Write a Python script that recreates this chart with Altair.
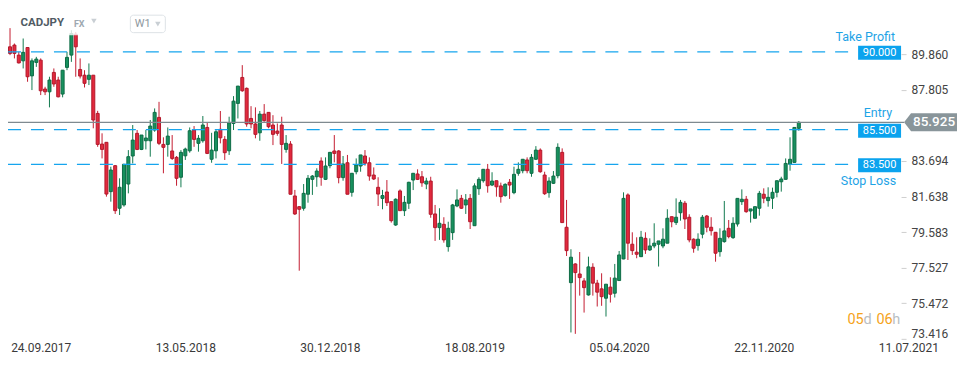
import altair as alt
import pandas as pd

# ---------------- data ----------------
symbol = "CADJPY"
market = "FX"
timeframe = "W1"
first_week = "2017-08-06"

open_ = [90.29, 90.39, 89.81, 89.48, 90.25, 88.61, 89.39, 89.52, 87.85, 87.69,
         88.81, 88.37, 87.56, 89.10, 89.81, 91.02, 88.98, 88.65, 88.41, 88.65,
         86.44, 84.67, 84.77, 81.92, 83.42, 80.96, 81.15, 82.36, 83.98, 85.29,
         84.36, 84.86, 84.86, 85.48, 86.21, 84.65, 84.65, 84.27, 83.90, 82.75,
         83.99, 84.28, 85.48, 84.71, 84.86, 85.63, 83.79, 84.28, 85.52, 84.94,
         84.28, 85.86, 87.02, 88.52, 87.89, 86.15, 85.83, 85.32, 86.40, 86.50,
         85.77, 85.42, 85.77, 84.36, 84.67, 81.67, 81.05, 80.96, 81.77, 82.63,
         82.78, 83.69, 82.63, 83.42, 84.27, 84.27, 82.73, 83.59, 81.88, 83.07,
         83.40, 83.98, 83.59, 82.88, 82.17, 81.53, 81.90, 81.34, 79.99, 81.96,
         80.82, 81.25, 82.59, 82.94, 82.78, 82.36, 82.53, 80.63, 79.84, 80.03,
         78.74, 79.55, 81.09, 81.53, 81.15, 81.53, 79.95, 82.09, 82.55, 83.21,
         82.30, 82.55, 82.25, 81.69, 82.46, 81.86, 82.98, 83.13, 83.75, 82.98,
         83.79, 84.32, 82.88, 81.86, 82.40, 82.84, 84.19, 79.86, 76.66, 77.74,
         77.16, 76.76, 75.95, 77.55, 76.63, 76.30, 75.76, 76.40, 76.05, 76.78,
         78.03, 81.73, 78.88, 78.42, 78.16, 79.22, 78.55, 78.78, 78.88, 78.78,
         78.94, 80.47, 80.13, 80.70, 81.25, 80.44, 79.17, 78.80, 79.46, 80.51,
         79.86, 79.57, 78.45, 79.03, 79.80, 79.26, 80.05, 81.34, 81.48, 80.80,
         80.38, 80.96, 81.77, 81.40, 81.54, 81.88, 82.49, 82.63, 83.50, 83.61,
         85.58]
high = [91.37, 90.48, 90.00, 90.77, 90.25, 89.62, 89.71, 89.62, 87.98, 88.56,
        89.04, 88.56, 88.94, 90.00, 91.25, 91.15, 89.62, 88.94, 89.33, 88.65,
        86.59, 85.29, 84.77, 83.36, 83.46, 82.69, 83.50, 84.32, 85.77, 85.48,
        85.19, 85.48, 86.06, 86.73, 87.11, 85.06, 85.63, 85.19, 83.98, 84.32,
        84.46, 85.63, 85.71, 85.19, 86.29, 85.90, 85.32, 85.48, 86.58, 85.13,
        86.25, 87.44, 88.02, 89.23, 87.94, 86.86, 86.79, 86.58, 86.98, 86.50,
        86.34, 85.86, 86.25, 85.19, 84.84, 82.02, 81.09, 82.36, 82.88, 82.88,
        83.27, 83.90, 83.90, 84.19, 85.19, 84.32, 83.98, 84.04, 82.98, 83.84,
        84.04, 84.32, 83.90, 83.32, 82.75, 82.02, 82.59, 81.34, 81.53, 82.05,
        81.67, 82.49, 82.98, 83.21, 83.11, 82.72, 82.78, 81.15, 80.96, 80.44,
        80.18, 81.21, 82.05, 81.73, 81.78, 81.78, 82.40, 82.75, 83.21, 83.52,
        83.04, 82.55, 82.44, 82.40, 82.65, 83.36, 83.61, 83.79, 83.90, 84.09,
        84.55, 84.42, 83.07, 82.75, 83.11, 84.71, 84.42, 81.44, 78.59, 77.78,
        78.43, 76.92, 78.16, 77.78, 76.82, 77.20, 76.57, 76.97, 77.74, 78.49,
        81.88, 81.82, 79.57, 79.28, 79.65, 79.57, 79.22, 80.09, 79.07, 79.80,
        80.90, 80.47, 81.53, 81.44, 81.38, 80.61, 79.22, 79.51, 80.57, 80.57,
        80.44, 79.57, 79.80, 81.38, 80.28, 80.44, 81.53, 82.05, 81.67, 80.92,
        81.05, 81.96, 82.11, 82.17, 82.15, 82.55, 82.78, 83.84, 85.06, 85.63,
        86.00]
low = [89.81, 89.62, 89.33, 89.04, 88.27, 87.79, 89.13, 87.50, 87.50, 86.79,
       87.98, 87.37, 87.37, 88.94, 89.42, 88.56, 88.46, 87.94, 88.08, 85.58,
       84.51, 83.84, 81.63, 81.34, 80.63, 80.57, 81.05, 81.82, 83.55, 84.32,
       84.32, 84.36, 83.94, 85.38, 84.61, 82.98, 83.94, 83.75, 82.26, 82.17,
       83.75, 84.17, 84.51, 84.23, 84.75, 84.09, 83.59, 83.84, 84.71, 83.75,
       84.04, 85.48, 86.15, 87.69, 85.67, 85.58, 85.00, 84.86, 85.96, 85.58,
       84.61, 85.15, 83.52, 84.17, 81.77, 80.57, 77.35, 80.82, 81.28, 81.73,
       82.20, 82.26, 82.59, 83.27, 83.61, 82.40, 82.55, 81.77, 81.63, 82.92,
       83.07, 83.42, 82.55, 82.59, 81.09, 80.90, 81.09, 80.13, 79.94, 80.82,
       80.51, 80.92, 82.01, 82.59, 82.20, 82.06, 80.41, 79.07, 79.13, 78.97,
       78.45, 79.13, 81.02, 80.92, 80.63, 79.76, 79.95, 81.73, 82.44, 81.86,
       82.24, 81.63, 81.28, 81.63, 81.50, 81.77, 82.84, 82.98, 82.98, 82.78,
       83.75, 83.01, 81.73, 81.57, 82.36, 82.69, 80.13, 78.20, 73.78, 73.70,
       75.91, 74.93, 75.91, 75.91, 75.28, 75.32, 74.70, 75.51, 75.80, 76.78,
       78.01, 77.97, 78.26, 78.07, 78.16, 78.32, 78.49, 78.65, 77.59, 78.65,
       78.94, 79.86, 79.99, 80.24, 79.76, 78.99, 78.39, 78.51, 79.22, 79.57,
       79.38, 77.87, 78.16, 78.97, 79.22, 79.19, 79.90, 81.15, 80.70, 80.13,
       80.38, 80.53, 81.25, 81.05, 80.92, 81.59, 81.92, 82.63, 83.13, 83.61,
       85.44]
close = [89.91, 89.91, 89.36, 89.97, 88.56, 89.48, 89.58, 87.75, 87.69, 88.37,
         88.14, 87.40, 88.94, 89.68, 91.06, 90.29, 88.60, 88.18, 88.65, 86.06,
         84.65, 84.36, 81.78, 83.17, 80.82, 82.17, 83.50, 83.94, 84.90, 84.36,
         85.19, 85.02, 85.71, 86.50, 84.71, 84.48, 85.13, 83.84, 82.69, 84.19,
         84.38, 85.44, 84.94, 85.00, 85.77, 84.13, 84.32, 85.38, 85.03, 84.17,
         85.90, 87.15, 88.02, 87.75, 85.83, 85.83, 85.23, 86.40, 86.02, 85.67,
         85.23, 85.29, 84.65, 84.71, 81.77, 80.63, 80.90, 81.82, 82.69, 82.82,
         83.11, 82.75, 83.40, 84.19, 84.13, 82.73, 83.52, 81.77, 82.98, 83.46,
         84.04, 83.56, 82.82, 82.65, 81.78, 81.69, 81.28, 80.24, 81.48, 80.82,
         81.30, 82.46, 82.98, 82.63, 82.43, 82.53, 80.61, 79.84, 80.09, 79.13,
         79.80, 81.15, 81.44, 80.96, 81.44, 80.18, 82.25, 82.63, 83.21, 82.26,
         82.53, 82.20, 81.63, 82.34, 82.30, 82.92, 83.21, 83.79, 83.13, 83.90,
         84.32, 83.07, 81.80, 82.53, 82.82, 84.48, 80.13, 78.51, 78.13, 77.24,
         76.95, 76.37, 77.57, 76.63, 76.11, 75.85, 76.57, 75.99, 76.92, 78.26,
         81.53, 78.94, 78.51, 78.30, 79.28, 78.55, 78.78, 78.94, 79.07, 79.17,
         80.38, 80.18, 80.44, 81.30, 80.34, 79.13, 78.65, 79.17, 80.44, 79.86,
         79.66, 78.36, 79.22, 79.65, 79.32, 80.09, 81.53, 81.48, 80.76, 80.92,
         81.05, 81.82, 81.54, 81.59, 81.88, 82.55, 82.65, 83.55, 83.79, 85.63,
         85.925]

level_values = [90.0, 85.5, 83.5]
level_labels = ["90.000", "85.500", "83.500"]
note_texts = ["Take Profit", "Entry", "Stop Loss"]
note_values = [90.0, 85.925, 83.5]
last_price = 85.925
last_price_label = "85.925"
y_tick_values = [89.860, 87.805, 83.694, 81.638, 79.583, 77.527, 75.472, 73.416]
x_tick_labels = ["24.09.2017", "13.05.2018", "30.12.2018", "18.08.2019",
                 "05.04.2020", "22.11.2020", "11.07.2021"]
timer_parts = ["05", "d", "06", "h"]

# ---------------- styling / layout ----------------
FONT = "Roboto"
W, H = 937, 332          # plot area wide enough for the last date label
AXIS_X = 894             # where the price axis sits inside it
GREEN, GREEN_DARK = "#17915e", "#0e6b45"
RED, RED_DARK = "#e2293d", "#b2182b"
BLUE = "#0ba3ee"
BLUE_TXT = "#1ea3e6"
GREY_TAG = "#89959a"

dates = pd.date_range(first_week, periods=len(close), freq="7D").strftime("%Y-%m-%d").tolist()
df = pd.DataFrame({"date": dates, "open": open_, "high": high, "low": low, "close": close})


def dt_from_label(s):
    d, m, y = s.split(".")
    return alt.DateTime(year=int(y), month=int(m), date=int(d), utc=True)


x_scale = alt.Scale(type="utc", domain=[
    alt.DateTime(year=2017, month=8, date=10, hours=17, minutes=41, utc=True),
    alt.DateTime(year=2021, month=8, date=28, hours=23, minutes=35, utc=True)])
y_scale = alt.Scale(domain=[73.354, 92.523], nice=False, zero=False)

x_axis = alt.Axis(values=[dt_from_label(s) for s in x_tick_labels],
                  format="%d.%m.%Y", labelFont=FONT, labelFontSize=12,
                  labelColor="#3a3a3a", ticks=False, domain=False, grid=False,
                  labelPadding=3, labelFlush=False, labelOverlap=False, title=None)

y_axis = alt.Axis(orient="right", offset=AXIS_X - W, values=y_tick_values, format=".3f",
                  grid=False, domain=False, tickSize=5, tickColor="#cfcfcf", labelPadding=5,
                  labelFont=FONT, labelFontSize=12, labelColor="#444444", title=None,
                  labelOverlap=False, labelFlush=False,
                  labelOffset={"condition": {"test": "datum.value < 74", "value": -5},
                               "value": 0})


def X(field):
    return alt.X(field, scale=x_scale, axis=x_axis, title=None)


def Y(field):
    return alt.Y(field, scale=y_scale, axis=y_axis, title=None)


up = "datum.close >= datum.open"

wicks = alt.Chart(df).mark_rule(strokeWidth=1, clip=True).encode(
    x=X("date:T"), y=Y("low:Q"), y2="high:Q",
    color=alt.condition(up, alt.value("#127a4f"), alt.value("#c41d31")),
)

bodies = alt.Chart(df).mark_bar(size=3, strokeWidth=1, clip=True).encode(
    x=X("date:T"), y=Y("open:Q"), y2="close:Q",
    color=alt.condition(up, alt.value(GREEN), alt.value(RED)),
    stroke=alt.condition(up, alt.value(GREEN_DARK), alt.value(RED_DARK)),
)

lev_df = pd.DataFrame({"value": level_values, "label": level_labels})
lev_y = Y("value:Q")

level_lines = alt.Chart(lev_df).mark_rule(strokeDash=[13, 10], strokeWidth=1.2,
                                          color="#16a5ee").encode(
    y=lev_y, x=alt.value(0), x2=alt.value(851))

entry_df = pd.DataFrame({"value": [last_price], "label": [last_price_label]})
entry_line = alt.Chart(entry_df).mark_rule(strokeWidth=1.3, color="#7f8a90").encode(
    y=lev_y, x=alt.value(0), x2=alt.value(897))

level_boxes = alt.Chart(lev_df).mark_rect(color=BLUE, yOffset=-6, y2Offset=8).encode(
    y=lev_y, y2="value:Q", x=alt.value(851), x2=alt.value(894))

level_text = alt.Chart(lev_df).mark_text(color="white", font=FONT, fontSize=11, dy=1).encode(
    y=lev_y, x=alt.value(872.5), text="label:N")

tag_path = "M-1,0L-0.736,-0.34L1,-0.34L1,0.34L-0.736,0.34Z"
price_tag = alt.Chart(entry_df).mark_point(shape=tag_path, size=2809, filled=True,
                                           opacity=1, color=GREY_TAG, strokeWidth=0).encode(
    y=lev_y, x=alt.value(923.5))
price_tag_text = alt.Chart(entry_df).mark_text(color="white", font=FONT, fontSize=13.5,
                                               fontWeight=500).encode(
    y=lev_y, x=alt.value(927), text="label:N")

note_dys = [-15, -9, 17]
note_xs = [888, 885, 889]
notes = []
for t, v, dy, xx in zip(note_texts, note_values, note_dys, note_xs):
    notes.append(alt.Chart(pd.DataFrame({"value": [v], "t": [t]})).mark_text(
        color=BLUE_TXT, font=FONT, fontSize=12.5, align="right", dy=dy).encode(
        y=lev_y, x=alt.value(xx), text="t:N"))

one = pd.DataFrame({"a": [0]})
header_fade = alt.Chart(one).mark_rect(color="white", opacity=0.8).encode(
    x=alt.value(56), x2=alt.value(94), y=alt.value(4), y2=alt.value(27))
sym_text = alt.Chart(one).mark_text(text=symbol, font=FONT, fontSize=11.5, fontWeight="bold",
                                    color="#505b64", align="left").encode(
    x=alt.value(12.5), y=alt.value(14.8))
mkt_text = alt.Chart(one).mark_text(text=market, font=FONT, fontSize=9, fontWeight="bold",
                                    color="#9ea8b0", align="left").encode(
    x=alt.value(66), y=alt.value(15.7))
tri1 = alt.Chart(one).mark_point(shape="triangle-down", size=30, filled=True, opacity=1,
                                 color="#c9cfd4").encode(x=alt.value(86), y=alt.value(13))
tf_box = alt.Chart(one).mark_rect(fill="white", stroke="#dde2e6", strokeWidth=1,
                                  cornerRadius=3).encode(
    x=alt.value(122.5), x2=alt.value(157.5), y=alt.value(7), y2=alt.value(24.5))
tf_text = alt.Chart(one).mark_text(text=timeframe, font=FONT, fontSize=11, color="#8e979e",
                                   align="left").encode(x=alt.value(127), y=alt.value(16))
tri2 = alt.Chart(one).mark_point(shape="triangle-down", size=30, filled=True, opacity=1,
                                 color="#c9cfd4").encode(x=alt.value(150), y=alt.value(16))

timer_x = [840.3, 856.3, 869.3, 885.3]
timer_col = ["#f5a31a", "#b8bec3", "#f5a31a", "#b8bec3"]
timer = []
for t, xx, c in zip(timer_parts, timer_x, timer_col):
    timer.append(alt.Chart(one).mark_text(text=t, font=FONT, fontSize=14.5, color=c,
                                          align="left").encode(x=alt.value(xx), y=alt.value(312)))

chart = alt.layer(
    wicks, bodies, level_lines, entry_line, level_boxes, level_text,
    price_tag, price_tag_text, *notes,
    header_fade, sym_text, mkt_text, tri1, tf_box, tf_text, tri2, *timer,
).properties(
    width=W, height=H,
    autosize=alt.AutoSizeParams(type="none"),
    padding={"left": 0, "top": 0, "right": 18, "bottom": 14},
    background="white",
).configure_view(strokeWidth=0)

chart.save("out.html", embed_options={"renderer": "svg", "actions": False})
